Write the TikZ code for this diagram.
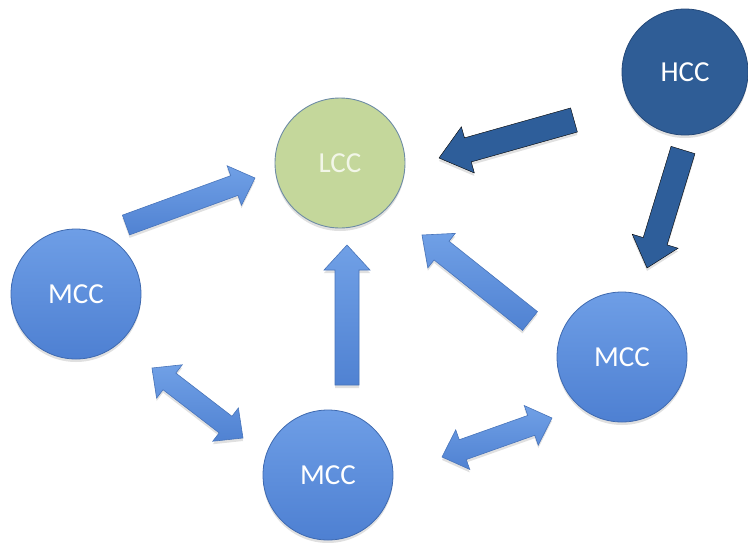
\documentclass[tikz,border=0pt]{standalone}
\usepackage{fontspec}
\setmainfont{Carlito}
\usetikzlibrary{calc,shadows}
\definecolor{mcctop}{RGB}{110,158,230}
\definecolor{mccbot}{RGB}{78,128,210}
\definecolor{mccedge}{RGB}{62,105,175}
\definecolor{hccfill}{RGB}{47,93,150}
\definecolor{hccedge}{RGB}{36,72,120}
\definecolor{lccfill}{RGB}{196,215,155}
\definecolor{lccedge}{RGB}{110,140,165}
\definecolor{lcctext}{RGB}{242,246,232}
\definecolor{artop}{RGB}{112,160,230}
\definecolor{arbot}{RGB}{80,130,210}
\definecolor{aredge}{RGB}{72,116,186}
\definecolor{ardark}{RGB}{46,94,154}
\newcommand\blockarrow[6]{%
  \coordinate (#2-#3-h) at ($(#3)!#6!(#2)$);
  \draw[#1] ($(#2)!#4!90:(#3)$) -- ($(#2-#3-h)!#4!90:(#3)$) -- ($(#2-#3-h)!#5!90:(#3)$) -- (#3)
    -- ($(#2-#3-h)!#5!-90:(#3)$) -- ($(#2-#3-h)!#4!-90:(#3)$) -- ($(#2)!#4!-90:(#3)$) -- cycle;
}
\newcommand\dblockarrow[6]{%
  \coordinate (#2-#3-ha) at ($(#2)!#6!(#3)$);
  \coordinate (#2-#3-hb) at ($(#3)!#6!(#2)$);
  \draw[#1] (#2) -- ($(#2-#3-ha)!#5!90:(#3)$) -- ($(#2-#3-ha)!#4!90:(#3)$) -- ($(#2-#3-hb)!#4!90:(#3)$)
    -- ($(#2-#3-hb)!#5!90:(#3)$) -- (#3) -- ($(#2-#3-hb)!#5!-90:(#3)$) -- ($(#2-#3-hb)!#4!-90:(#3)$)
    -- ($(#2-#3-ha)!#4!-90:(#3)$) -- ($(#2-#3-ha)!#5!-90:(#3)$) -- cycle;
}
\tikzset{
  circ/.style={circle, minimum size=#1, inner sep=0pt, font=\fontsize{29}{29}\selectfont},
  softshadow/.style={drop shadow={opacity=0.2, shadow xshift=0pt, shadow yshift=-3pt, fill=black!60}},
  mcc/.style={circ=130pt, draw=mccedge, line width=0.8pt, top color=mcctop, bottom color=mccbot, text=white, softshadow},
  hcc/.style={circ=126pt, draw=hccedge, line width=0.8pt, fill=hccfill, text=white, softshadow},
  lcc/.style={circ=130pt, draw=lccedge, line width=0.9pt, fill=lccfill, text=lcctext, softshadow},
  lightarrow/.style={draw=aredge, line width=0.6pt, top color=artop, bottom color=arbot, line join=miter, softshadow},
  darkarrow/.style={fill=ardark, line join=miter, softshadow},
}
\begin{document}
\begin{tikzpicture}[x=1pt,y=-1pt]
\useasboundingbox (0,0) rectangle (748,542);
% nodes
\node[hcc] (hcc) at (685,72) {HCC};
\node[lcc] (lcc) at (340,163) {LCC};
\node[mcc] (mccl) at (76,294) {MCC};
\node[mcc] (mccb) at (328,475) {MCC};
\node[mcc] (mccr) at (622,357) {MCC};
% arrow end points
\coordinate (a1s) at (574,120); \coordinate (a1e) at (439,158);
\coordinate (a2s) at (683,150); \coordinate (a2e) at (647,268);
\coordinate (a3s) at (126,225); \coordinate (a3e) at (255,178);
\coordinate (a4s) at (152,368); \coordinate (a4e) at (243,438);
\coordinate (a5s) at (442,457); \coordinate (a5e) at (552,418);
\coordinate (a6s) at (347,385); \coordinate (a6e) at (347,245);
\coordinate (a7s) at (530,321); \coordinate (a7e) at (422,235);
% arrows
\blockarrow{darkarrow}{a1s}{a1e}{12.5pt}{24pt}{30pt}
\blockarrow{darkarrow}{a2s}{a2e}{12.5pt}{24pt}{28pt}
\blockarrow{lightarrow}{a3s}{a3e}{10.5pt}{21pt}{22pt}
\dblockarrow{lightarrow}{a4s}{a4e}{10.5pt}{21pt}{22pt}
\dblockarrow{lightarrow}{a5s}{a5e}{10.5pt}{21pt}{22pt}
\blockarrow{lightarrow}{a6s}{a6e}{12pt}{23pt}{25pt}
\blockarrow{lightarrow}{a7s}{a7e}{12pt}{22pt}{25pt}
\end{tikzpicture}
\end{document}
